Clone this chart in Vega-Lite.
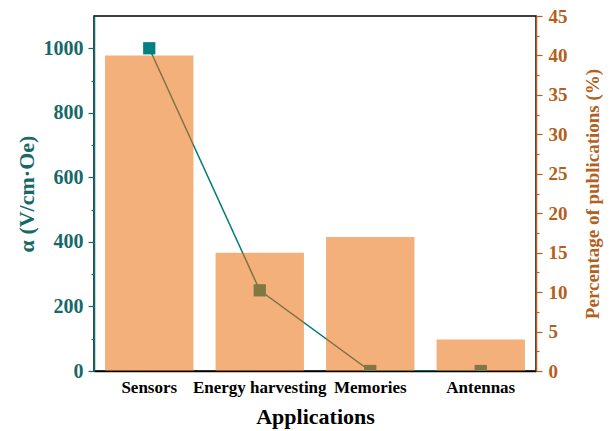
{
  "$schema": "https://vega.github.io/schema/vega-lite/v6.json",
  "autosize": {"type": "none"},
  "width": 442,
  "height": 355,
  "padding": {"left": 94, "top": 16, "right": 76, "bottom": 60},
  "background": "white",
  "config": {
    "font": "Liberation Serif",
    "view": {"stroke": "black", "strokeWidth": 1.5},
    "axis": {"labelFont": "Liberation Serif", "titleFont": "Liberation Serif", "labelFontWeight": "bold", "titleFontWeight": "bold", "grid": false}
  },
  "data": {
    "values": [
      {"application": "Sensors", "alpha": 1000, "share": 40},
      {"application": "Energy harvesting", "alpha": 250, "share": 15},
      {"application": "Memories", "alpha": 0, "share": 17},
      {"application": "Antennas", "alpha": 0, "share": 4}
    ]
  },
  "encoding": {
    "x": {
      "field": "application",
      "type": "nominal",
      "sort": null,
      "scale": {"paddingInner": 0.2, "paddingOuter": 0.1},
      "axis": {
        "title": "Applications",
        "labelAngle": 0,
        "labelFontSize": 17,
        "labelColor": "black",
        "labelPadding": 8,
        "labelOverlap": false,
        "labelBound": false,
        "ticks": false,
        "domainColor": "black",
        "domainWidth": 1.5,
        "titleFontSize": 22,
        "titleColor": "black",
        "titlePadding": 11
      }
    }
  },
  "layer": [
    {
      "mark": {"type": "line", "clip": true, "color": "#007a7a", "strokeWidth": 1.5, "point": {"shape": "square", "size": 150, "filled": true, "color": "#008080", "opacity": 1, "clip": true}},
      "encoding": {
        "y": {
          "field": "alpha",
          "type": "quantitative",
          "scale": {"domain": [0, 1100], "nice": false},
          "axis": {
            "orient": "left",
            "title": "α (V/cm·Oe)",
            "format": "d",
            "values": [0, 100, 200, 300, 400, 500, 600, 700, 800, 900, 1000],
            "labelExpr": "datum.value % 200 === 0 ? datum.label : ''",
            "tickSize": {"condition": {"test": "datum.value % 200 === 0", "value": 6}, "value": 3},
            "labelFontSize": 20,
            "labelPadding": 5,
            "labelColor": "#176868",
            "tickColor": "#176868",
            "tickWidth": 1.2,
            "domainColor": "#176868",
            "domainWidth": 1.5,
            "titleFontSize": 22,
            "titleColor": "#176868",
            "titlePadding": 5
          }
        }
      }
    },
    {
      "mark": {"type": "bar", "color": "#ea700e", "opacity": 0.55},
      "encoding": {
        "y": {
          "field": "share",
          "type": "quantitative",
          "scale": {"domain": [0, 45], "nice": false},
          "axis": {
            "orient": "right",
            "title": "Percentage of publications (%)",
            "titleAngle": 270,
            "titleBaseline": "top",
            "values": [0, 2.5, 5, 7.5, 10, 12.5, 15, 17.5, 20, 22.5, 25, 27.5, 30, 32.5, 35, 37.5, 40, 42.5, 45],
            "labelExpr": "datum.value % 5 === 0 ? datum.label : ''",
            "tickSize": {"condition": {"test": "datum.value % 5 === 0", "value": 6}, "value": 3},
            "labelFontSize": 19,
            "labelPadding": 6,
            "labelColor": "#b45f1c",
            "tickColor": "#b45f1c",
            "tickWidth": 1.2,
            "domainColor": "#b45f1c",
            "domainWidth": 1.5,
            "titleFontSize": 19,
            "titleColor": "#b45f1c",
            "titlePadding": 16
          }
        }
      }
    }
  ],
  "resolve": {"scale": {"y": "independent"}}
}
